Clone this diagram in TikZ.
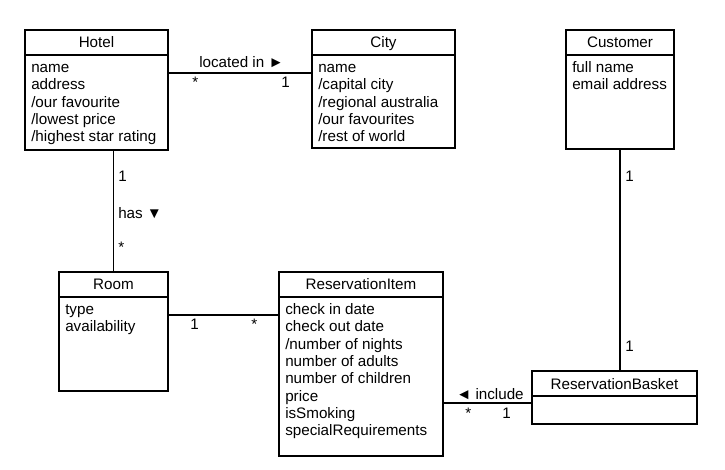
\documentclass[tikz,border=0pt]{standalone}
\usepackage{fontspec}
\setmainfont{Liberation Sans}
\usetikzlibrary{calc}
\tikzset{
  classbox/.style={draw, line width=0.8pt, inner sep=0pt, outer sep=0pt, fill=white},
  conn/.style={draw, line width=0.8pt},
  lbl/.style={anchor=base west, inner sep=0pt},
  attrs/.style={anchor=north west, align=left, inner sep=0pt, font=\fontsize{11.4pt}{13pt}\selectfont},
  title/.style={anchor=base, inner sep=0pt}
}
\newcommand\umlclass[7]{%
  \node[classbox, minimum width=#4*0.75pt, minimum height=#5*0.75pt, anchor=north west] (#1) at (#2,#3) {};
  \draw[line width=0.8pt] (#1.north west) ++(0,25) -- ++(#4,0);
  \node[title] (#1-t) at ($(#1.north)+(0,18)$) {#6};
  \node[attrs] (#1-a) at ($(#1.north west)+(6,30)$) {#7};
}
\begin{document}
\begin{tikzpicture}[x=0.75pt, y=-0.75pt, font=\fontsize{11.4pt}{13pt}\selectfont]
\useasboundingbox[fill=white] (0,0) rectangle (725,470);

\umlclass{hotel}{25}{30}{143}{120}{Hotel}{\strut name\\\strut address\\\strut /our favourite\\\strut /lowest price\\\strut /highest star rating}
\umlclass{city}{312}{30}{143}{118}{City}{\strut name\\\strut /capital city\\\strut /regional australia\\\strut /our favourites\\\strut /rest of world}
\umlclass{customer}{566}{30}{108}{119}{Customer}{\strut full name\\\strut email address}
\umlclass{room}{59}{272}{109}{119}{Room}{\strut type\\\strut availability}
\umlclass{ri}{279}{272}{164}{184}{ReservationItem}{\strut check in date\\\strut check out date\\\strut /number of nights\\\strut number of adults\\\strut number of children\\\strut price\\\strut isSmoking\\\strut specialRequirements}
\umlclass{basket}{532}{371}{165}{53}{ReservationBasket}{}

% connectors
\draw[conn] (hotel.east |- 0,73) -- (city.west |- 0,73);
\draw[conn] (room.north) -- (room.north |- hotel.south);
\draw[conn] (room.east |- 0,315) -- (ri.west |- 0,315);
\draw[conn] (customer.south) -- (customer.south |- basket.north);
\draw[conn] (ri.east |- 0,403) -- (basket.west |- 0,403);

% labels
\node[lbl] (l1) at (199,68) {located in ►};
\node[lbl] (m1) at (192,88) {*};
\node[lbl] (m2) at (281,88) {1};
\node[lbl] (m3) at (118,182) {1};
\node[lbl] (l2) at (118,219) {has ▼};
\node[lbl] (m4) at (118,253) {*};
\node[lbl] (m5) at (190,330) {1};
\node[lbl] (m6) at (251,330) {*};
\node[lbl] (m7) at (625,182) {1};
\node[lbl] (m8) at (625,352) {1};
\node[lbl] (l3) at (456,399) {◄ include};
\node[lbl] (m9) at (465,418) {*};
\node[lbl] (m10) at (502,418) {1};
\end{tikzpicture}
\end{document}
